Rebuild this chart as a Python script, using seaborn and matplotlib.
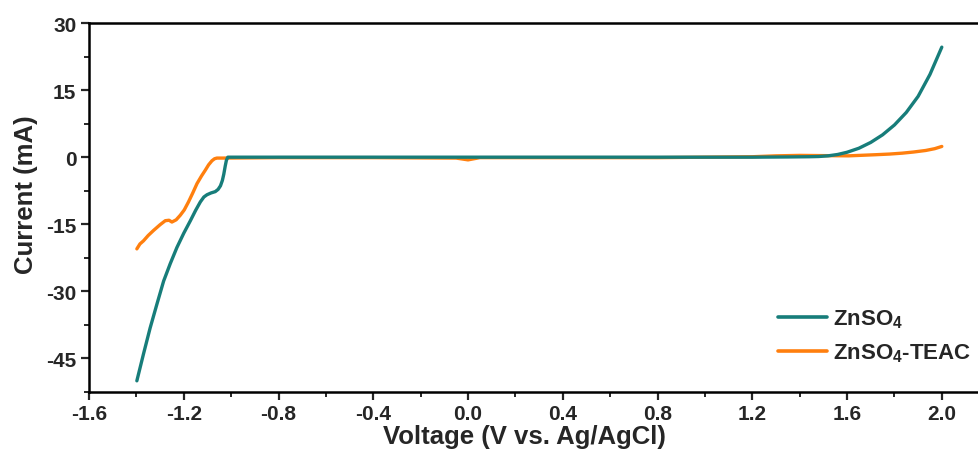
import matplotlib
matplotlib.use("Agg")
import matplotlib.pyplot as plt
import seaborn as sns
import pandas as pd

# ---- data ----
v_zn = [-1.398, -1.370, -1.342, -1.313, -1.285, -1.257, -1.229, -1.200, -1.172,
        -1.150, -1.130, -1.115, -1.102, -1.085, -1.067, -1.055, -1.045, -1.037,
        -1.031, -1.025, -1.020, -1.014, -0.8, -0.4, 0.0, 0.4, 0.8, 1.2, 1.35,
        1.44, 1.48, 1.52, 1.56, 1.60, 1.65, 1.70, 1.75, 1.80, 1.85, 1.90, 1.95, 2.0]
i_zn = [-50.0, -44.0, -38.2, -32.8, -27.7, -23.8, -20.2, -17.0, -14.2,
        -11.9, -10.0, -8.9, -8.4, -8.0, -7.7, -7.2, -6.4, -5.2,
        -3.8, -2.0, -0.7, 0.0, 0.0, 0.0, 0.0, 0.0, 0.0, 0.0, 0.05,
        0.1, 0.15, 0.3, 0.6, 1.1, 2.0, 3.3, 5.0, 7.2, 10.0, 13.6, 18.5, 24.6]

v_teac = [-1.398, -1.385, -1.370, -1.350, -1.328, -1.300, -1.278, -1.262, -1.250,
          -1.232, -1.215, -1.198, -1.180, -1.162, -1.144, -1.125, -1.109, -1.095,
          -1.081, -1.070, -1.060, -1.030, -0.8, -0.4, -0.05, 0.0, 0.05, 0.4, 0.8,
          1.2, 1.3, 1.4, 1.5, 1.607, 1.72, 1.78, 1.833, 1.88, 1.932, 1.97, 2.0]
i_teac = [-20.5, -19.4, -18.7, -17.5, -16.4, -15.1, -14.2, -14.1, -14.5,
          -14.0, -13.0, -11.8, -10.0, -8.0, -5.9, -4.2, -2.9, -1.7,
          -0.8, -0.35, -0.2, -0.2, -0.1, -0.1, -0.2, -0.6, -0.1, -0.1, -0.1,
          0.1, 0.3, 0.4, 0.35, 0.3, 0.55, 0.7, 0.9, 1.15, 1.5, 1.9, 2.4]

series_names = [r"ZnSO$_4$", r"ZnSO$_4$-TEAC"]
colors = ["#177d7a", "#ff7f0e"]

x_ticks = [-1.6, -1.2, -0.8, -0.4, 0.0, 0.4, 0.8, 1.2, 1.6, 2.0]
y_ticks = [-45, -30, -15, 0, 15, 30]

df_zn = pd.DataFrame({"Voltage": v_zn, "Current": i_zn})
df_teac = pd.DataFrame({"Voltage": v_teac, "Current": i_teac})

sns.set_style("ticks")
plt.rcParams["font.family"] = ["Liberation Sans", "DejaVu Sans"]
plt.rcParams["font.weight"] = "bold"
plt.rcParams["axes.unicode_minus"] = False
plt.rcParams["mathtext.fontset"] = "custom"
plt.rcParams["mathtext.rm"] = "Liberation Sans:bold"
plt.rcParams["mathtext.it"] = "Liberation Sans:bold"
plt.rcParams["mathtext.bf"] = "Liberation Sans:bold"
plt.rcParams["mathtext.default"] = "regular"

fig = plt.figure(figsize=(9.79, 4.64), dpi=100)
ax = fig.add_axes([89/979, 71/464, 1 - 89/979, (393-24)/464])

# orange first so the teal curve lies on top
sns.lineplot(data=df_teac, x="Voltage", y="Current", color=colors[1], sort=False,
             linewidth=2.4, ax=ax, label=series_names[1])
sns.lineplot(data=df_zn, x="Voltage", y="Current", color=colors[0], sort=False,
             linewidth=2.4, ax=ax, label=series_names[0])

ax.set_xlim(-1.6, 2.157)
ax.set_ylim(-52.5, 30)
ax.set_xticks(x_ticks)
ax.set_xticklabels([f"{t:.1f}" for t in x_ticks])
ax.set_yticks(y_ticks)
ax.set_yticklabels([str(t) for t in y_ticks])
ax.xaxis.set_minor_locator(matplotlib.ticker.AutoMinorLocator(2))
ax.yaxis.set_minor_locator(matplotlib.ticker.AutoMinorLocator(2))
ax.tick_params(which="major", direction="out", length=6, width=1.6,
               labelsize=15, pad=3)
ax.tick_params(which="minor", direction="out", length=3.5, width=1.4)
for lab in ax.get_xticklabels() + ax.get_yticklabels():
    lab.set_fontweight("bold")

for s in ["left", "bottom", "top"]:
    ax.spines[s].set_linewidth(1.8)
    ax.spines[s].set_color("black")
ax.spines["right"].set_visible(False)

ax.set_xlabel("Voltage (V vs. Ag/AgCl)", fontsize=18.5, fontweight="bold")
ax.set_ylabel("Current (mA)", fontsize=18.5, fontweight="bold")
ax.xaxis.set_label_coords(0.489, -0.088)
ax.yaxis.set_label_coords(-0.057, 0.537)

handles, labels = ax.get_legend_handles_labels()
order = [labels.index(n) for n in series_names]
leg = ax.legend([handles[i] for i in order], [labels[i] for i in order],
                loc="lower right", bbox_to_anchor=(1.014, 0.022), frameon=False,
                fontsize=16, handlelength=2.2, handletextpad=0.3, labelspacing=0.5)
for t in leg.get_texts():
    t.set_fontweight("bold")
for h in leg.get_lines():
    h.set_linewidth(2.6)

fig.savefig("out.png", dpi=100)
